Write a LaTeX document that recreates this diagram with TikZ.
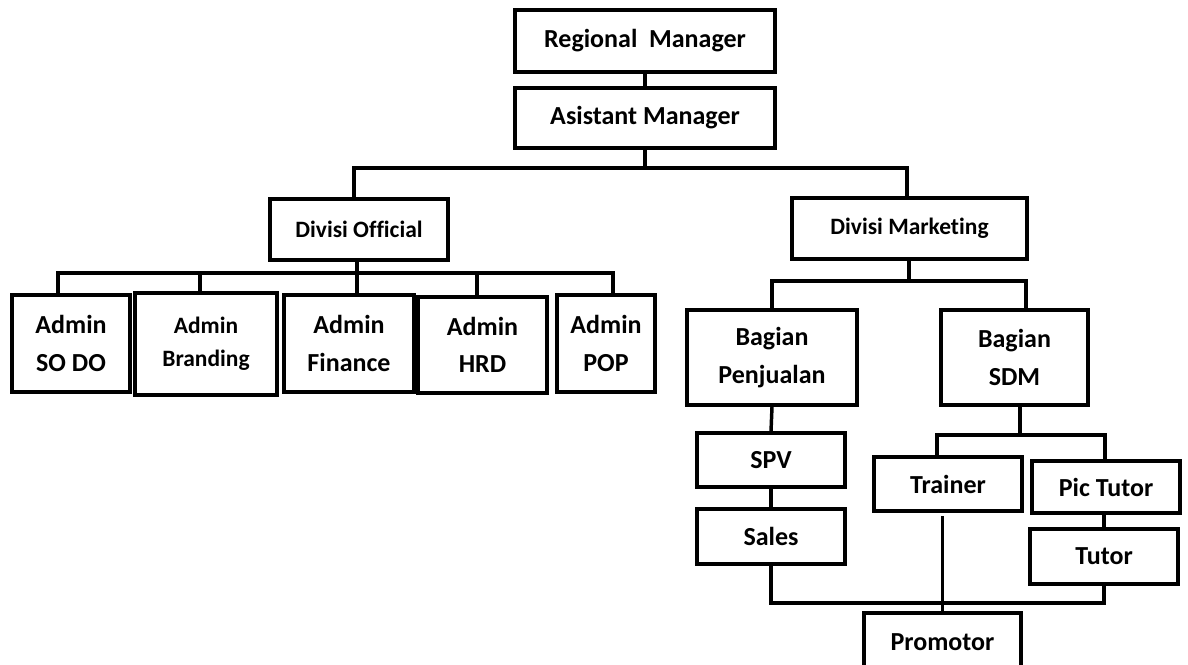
\documentclass[tikz,border=0pt]{standalone}
\usepackage{fontspec}
\setmainfont{Carlito}[Ligatures=NoCommon]
\usetikzlibrary{calc}

\begin{document}
\begin{tikzpicture}[x=0.75pt, y=-0.75pt,
  box/.style={draw, line width=2.6pt, align=center, inner sep=0pt,
    font=\bfseries\fontsize{19.5}{28}\selectfont},
  smalltext/.style={font=\bfseries\fontsize{17.6}{25}\selectfont},
  link/.style={line width=2.6pt, line cap=rect}]
  \useasboundingbox (0,0) rectangle (1188,664);
  \clip (0,0) rectangle (1188,664);

  % pimpinan
  \node[box, minimum width=195pt, minimum height=46.5pt] (rm) at (645,41) {Regional\ \ Manager};
  \node[box, minimum width=195pt, minimum height=45pt] (am) at (645,118) {Asistant Manager};

  % divisi
  \node[box, smalltext, minimum width=133.5pt, minimum height=45.75pt] (dof) at (359,229.5) {Divisi Official};
  \node[box, smalltext, minimum width=176.25pt, minimum height=45.75pt] (dmk) at (909.5,228.5) {Divisi Marketing};

  % admin divisi official
  \node[box, minimum width=88.5pt, minimum height=72.75pt] (sodo) at (71,343.5) {Admin\\SO DO};
  \node[box, smalltext, minimum width=106.5pt, minimum height=76.5pt] (brd) at (206,344) {Admin\\Branding};
  \node[box, minimum width=97.5pt, minimum height=72.75pt] (fin) at (349,343.5) {Admin\\Finance};
  \node[box, minimum width=96.75pt, minimum height=72pt] (hrd) at (482.5,345) {Admin\\HRD};
  \node[box, minimum width=73.5pt, minimum height=72.75pt] (pop) at (606,343.5) {Admin\\POP};

  % bagian divisi marketing
  \node[box, minimum width=127.5pt, minimum height=71.25pt] (pjl) at (772,357.5) {Bagian\\Penjualan};
  \node[box, minimum width=110.25pt, minimum height=71.25pt] (sdm) at (1014.5,357.5) {Bagian\\SDM};
  \node[box, minimum width=111pt, minimum height=40.5pt] (spv) at (771,460) {SPV};
  \node[box, minimum width=111pt, minimum height=41.25pt] (sls) at (771,536.5) {Sales};
  \node[box, minimum width=111pt, minimum height=40.5pt] (trn) at (948,484) {Trainer};
  \node[box, minimum width=111pt, minimum height=39pt] (pic) at (1106,487) {Pic Tutor};
  \node[box, minimum width=111pt, minimum height=41.25pt] (tut) at (1104,556.5) {Tutor};
  \node[box, minimum width=117.75pt, minimum height=43.5pt] (prm) at (942.5,642) {Promotor};

  % garis penghubung
  \coordinate (topbus) at (645,168);
  \coordinate (offbus) at (357,273);
  \coordinate (mktbus) at (909,281);
  \coordinate (sdmbus) at (1020,435);
  \coordinate (prmbus) at (942,603);

  \draw[link] (rm) -- (am);
  \draw[link] (am) -- (topbus);
  \draw[link] (dof.north -| 354,0) |- (topbus) -| (dmk.north -| 907,0);

  \draw[link] (dof.south -| offbus) -- (offbus);
  \draw[link] (sodo.north -| 58,0) |- (offbus) -| (pop.north -| 613,0);
  \draw[link] (brd.north -| 200,0) -- (200,273);
  \draw[link] (fin.north -| offbus) -- (offbus);
  \draw[link] (hrd.north -| 477,0) -- (477,273);

  \draw[link] (dmk.south -| mktbus) -- (mktbus);
  \draw[link] (pjl.north) |- (mktbus) -| (sdm.north -| 1026,0);
  \draw[link] (pjl.south) -- (spv.north);
  \draw[link] (spv.south) -- (sls.north);

  \draw[link] (sdm.south -| sdmbus) -- (sdmbus);
  \draw[link] (trn.north -| 937,0) |- (sdmbus) -| (pic.north -| 1105,0);
  \draw[link] (pic.south -| tut.north) -- (tut.north);

  \draw[link] (sls.south) |- (prmbus) -| (tut.south);
  \draw[link, shorten <=4pt] (trn.south -| prm.north) -- (prm.north);
\end{tikzpicture}
\end{document}
